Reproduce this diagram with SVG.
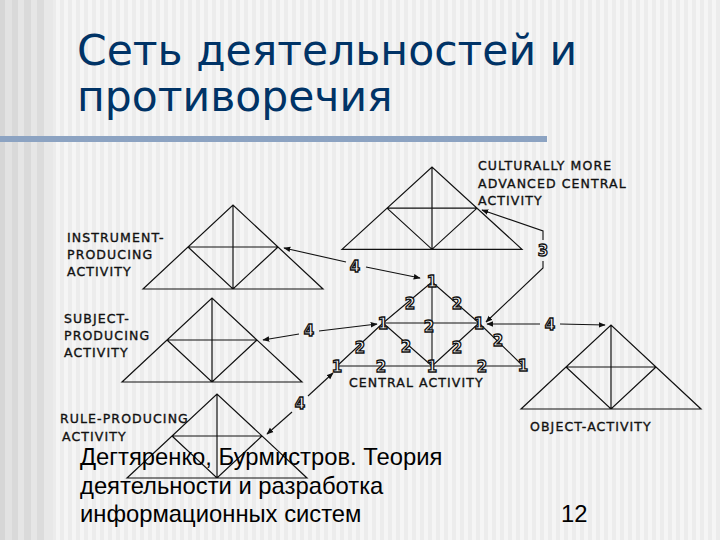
<svg xmlns="http://www.w3.org/2000/svg" width="720" height="540" viewBox="0 0 720 540">
<defs>
<pattern id="stripes" x="0" y="0" width="8" height="10" patternUnits="userSpaceOnUse">
<rect x="0" y="0" width="4" height="10" fill="#f5f5f5"/>
<rect x="4" y="0" width="4" height="10" fill="#ececec"/>
</pattern>
<marker id="ah" viewBox="0 0 10 10" refX="9" refY="5" markerWidth="7" markerHeight="7" markerUnits="userSpaceOnUse" orient="auto-start-reverse">
<path d="M0,1 L10,5 L0,9 Z" fill="#111"/>
</marker>
<g id="tri">
<path d="M-90,84 L0,0 L90,84 Z M-45,42 H45 M0,0 V84 M-45,42 L0,84 L45,42" fill="none" stroke="#111" stroke-width="1.2"/>
</g>
</defs>
<style>
.lbl{font-family:"DejaVu Sans",sans-serif;font-size:12.5px;letter-spacing:1.1px;fill:#111;stroke:#111;stroke-width:0.35px}
.num{font-family:"DejaVu Sans",sans-serif;font-size:15px;font-weight:bold;fill:#ffffff;stroke:#111;stroke-width:1.3px;text-anchor:middle}
.con{fill:none;stroke:#111;stroke-width:1.1}
.foot{font-family:"Liberation Sans",Arial,sans-serif;font-size:23.8px;fill:#000}
.title{font-family:"DejaVu Sans",sans-serif;font-size:42.5px;fill:#003366}
</style>
<!-- background -->
<rect x="0" y="0" width="720" height="540" fill="url(#stripes)"/>
<rect x="0" y="0" width="5" height="540" fill="#d6d6d6"/>
<rect x="5" y="0" width="7" height="540" fill="#e2e2e2"/>
<rect x="12" y="0" width="6" height="540" fill="#d9d9d9"/>
<rect x="18" y="0" width="6" height="540" fill="#e5e5e5"/>
<rect x="24" y="0" width="7" height="540" fill="#dadada"/>
<rect x="31" y="0" width="6" height="540" fill="#e6e6e6"/>
<rect x="37" y="0" width="7" height="540" fill="#dcdcdc"/>
<rect x="44" y="0" width="9" height="540" fill="#e8e8e8"/>
<!-- title -->
<g id="title">
<text class="title" x="77" y="65">Сеть деятельностей и</text>
<text class="title" x="77" y="111">противоречия</text>
<rect x="0" y="136" width="547" height="6" fill="#8ca3c2"/>
</g>
<!-- triangles -->
<g id="culturally">
<use href="#tri" transform="translate(432,167) scale(1,0.98)"/>
<text class="lbl"><tspan x="478" y="170">CULTURALLY MORE</tspan><tspan x="478" y="188">ADVANCED CENTRAL</tspan><tspan x="478" y="205">ACTIVITY</tspan></text>
</g>
<g id="instrument">
<use href="#tri" transform="translate(233,205)"/>
<text class="lbl"><tspan x="67" y="242">INSTRUMENT-</tspan><tspan x="67" y="259">PRODUCING</tspan><tspan x="67" y="276">ACTIVITY</tspan></text>
</g>
<g id="subject">
<use href="#tri" transform="translate(212,298)"/>
<text class="lbl"><tspan x="64" y="323">SUBJECT-</tspan><tspan x="64" y="340">PRODUCING</tspan><tspan x="64" y="357">ACTIVITY</tspan></text>
</g>
<g id="rule">
<use href="#tri" transform="translate(217,394)"/>
<text class="lbl"><tspan x="60" y="423">RULE-PRODUCING</tspan><tspan x="62" y="441">ACTIVITY</tspan></text>
</g>
<g id="object">
<use href="#tri" transform="translate(611,325)"/>
<text class="lbl" x="530" y="431">OBJECT-ACTIVITY</text>
</g>
<!-- central activity network -->
<g id="central">
<path class="con" d="M432,282 L383,323 M432,282 L479,323 M432,282 V366 M383,323 H479 M383,323 L337,366 M383,323 L432,366 M479,323 L432,366 M479,323 L523,366 M337,366 H523" stroke-width="1"/>
<text class="num" x="432" y="287">1</text>
<text class="num" x="383" y="329">1</text>
<text class="num" x="479" y="329">1</text>
<text class="num" x="337" y="372">1</text>
<text class="num" x="432" y="372">1</text>
<text class="num" x="523" y="371">1</text>
<text class="num" x="410" y="309">2</text>
<text class="num" x="457" y="309">2</text>
<text class="num" x="429" y="332">2</text>
<text class="num" x="360" y="353">2</text>
<text class="num" x="406" y="352">2</text>
<text class="num" x="457" y="353">2</text>
<text class="num" x="498" y="346">2</text>
<text class="num" x="381" y="372">2</text>
<text class="num" x="482" y="372">2</text>
<text class="lbl" x="349" y="387">CENTRAL ACTIVITY</text>
</g>
<!-- connectors -->
<g id="connectors">
<path class="con" d="M346,262 L284,248" marker-end="url(#ah)"/>
<path class="con" d="M366,267 L420,278" marker-end="url(#ah)"/>
<path class="con" d="M299,334 L263,340" marker-end="url(#ah)"/>
<path class="con" d="M319,331 L377,324" marker-end="url(#ah)"/>
<path class="con" d="M292,412 L267,434" marker-end="url(#ah)"/>
<path class="con" d="M308,396 L333,373" marker-end="url(#ah)"/>
<path class="con" d="M540,324 L487,324" marker-end="url(#ah)"/>
<path class="con" d="M560,324 L605,325" marker-end="url(#ah)"/>
<path class="con" d="M543,240 V231 L482,210" marker-end="url(#ah)"/>
<path class="con" d="M543,261 V268 L486,322" marker-end="url(#ah)"/>
<text class="num" x="355" y="272">4</text>
<text class="num" x="309" y="336">4</text>
<text class="num" x="300" y="409">4</text>
<text class="num" x="550" y="330">4</text>
<text class="num" x="543" y="256">3</text>
</g>
<!-- footer -->
<g id="footer">
<text class="foot"><tspan x="80" y="465">Дегтяренко, Бурмистров. Теория</tspan><tspan x="80" y="494">деятельности и разработка</tspan><tspan x="80" y="522">информационных систем</tspan></text>
<text class="foot" x="561" y="522">12</text>
</g>
</svg>
